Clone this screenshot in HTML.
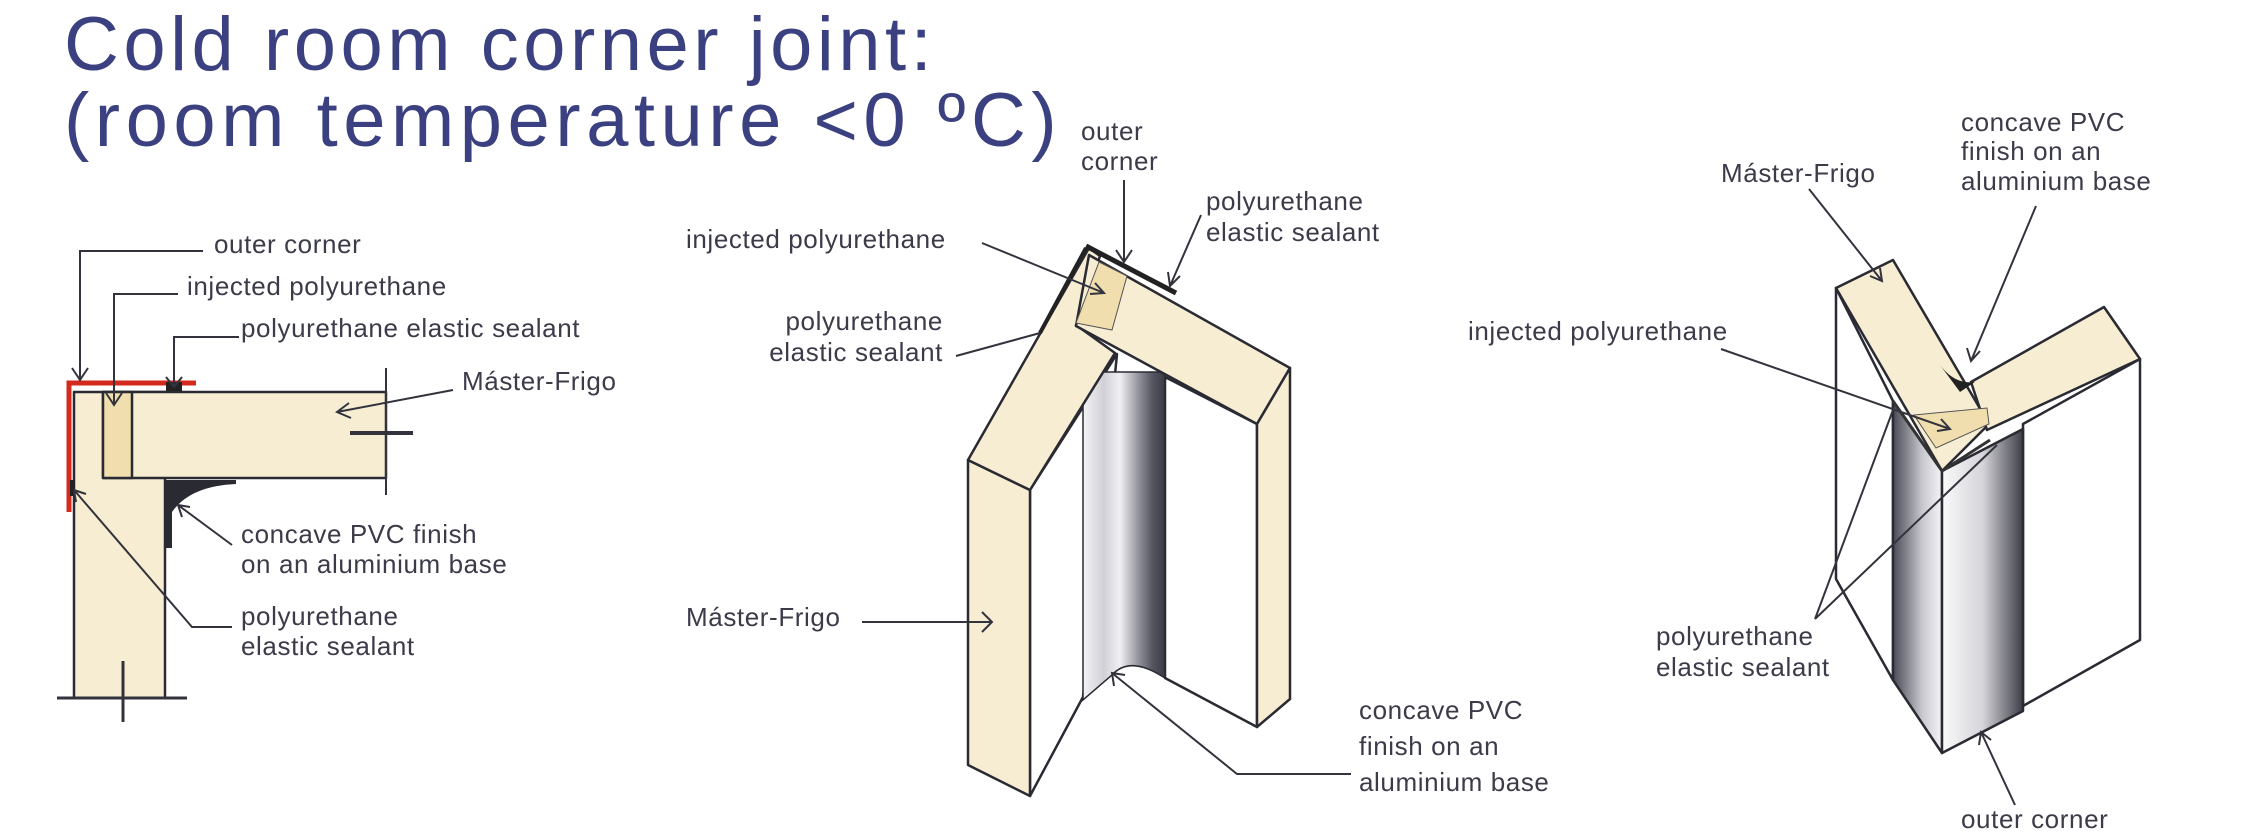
<!DOCTYPE html>
<html><head><meta charset="utf-8"><style>
html,body{margin:0;padding:0;background:#fff;}
svg{display:block;}
.t{font-family:"Liberation Sans",sans-serif;font-size:26px;fill:#3b3b4a;letter-spacing:0.6px;}
.ti{font-family:"Liberation Sans",sans-serif;font-size:76px;fill:#3a4080;letter-spacing:4.5px;}
.ln{stroke:#33333d;stroke-width:2;fill:none;}
.ol{stroke:#2a2a33;stroke-width:2.5;stroke-linejoin:round;}
</style></head><body>
<svg width="2267" height="837" viewBox="0 0 2267 837" xmlns="http://www.w3.org/2000/svg">
<defs>
<linearGradient id="cyl" x1="0" x2="1" y1="0" y2="0">
<stop offset="0" stop-color="#f4f4f6"/><stop offset="0.25" stop-color="#d0d0d6"/><stop offset="0.45" stop-color="#f0f0f2"/><stop offset="0.7" stop-color="#8a8a94"/><stop offset="0.85" stop-color="#55555f"/><stop offset="1" stop-color="#3a3a44"/>
</linearGradient>
<linearGradient id="m1" x1="0" x2="1" y1="0" y2="0">
<stop offset="0" stop-color="#4a4a55"/><stop offset="0.6" stop-color="#c8c8cf"/><stop offset="1" stop-color="#f5f5f7"/>
</linearGradient>
<linearGradient id="m2" x1="0" x2="1" y1="0" y2="0">
<stop offset="0" stop-color="#fafafa"/><stop offset="0.5" stop-color="#d5d5da"/><stop offset="1" stop-color="#3e3e48"/>
</linearGradient>
</defs>

<!-- Title -->
<text class="ti" x="64" y="70">Cold room corner joint:</text>
<text class="ti" x="64" y="146" style="letter-spacing:5.5px">(room temperature &lt;0 ºC)</text>

<!-- ===== Left diagram ===== -->
<rect x="74" y="392" width="91" height="306" fill="#f6edd3" class="ol"/>
<rect x="103" y="392" width="283" height="86" fill="#f6edd3" class="ol"/>
<rect x="103" y="392" width="29" height="86" fill="#f0deaf" class="ol"/>
<path d="M69 512 L69 383 L196 383" stroke="#d42a1e" stroke-width="5" fill="none"/>
<rect x="166" y="382" width="16" height="9" fill="#222"/>
<rect x="70" y="480" width="5" height="16" fill="#222"/>
<path d="M166 480 L236 480 L236 484 Q190 486 172 512 L172 548 L166 548 Z" fill="#2a2a33"/>
<line x1="386" y1="368" x2="386" y2="495" class="ln"/>
<line x1="350" y1="433" x2="413" y2="433" stroke="#33333d" stroke-width="4"/>
<line x1="57" y1="698" x2="187" y2="698" stroke="#33333d" stroke-width="3"/>
<line x1="123" y1="661" x2="123" y2="722" stroke="#33333d" stroke-width="3"/>
<!-- leaders -->
<path class="ln" d="M203 251 L80 251 L80 380 M72 368 L80 380 L88 368"/>
<path class="ln" d="M178 294 L114 294 L114 405 M106 393 L114 405 L122 393"/>
<path class="ln" d="M239 337 L174 337 L174 387 M166 377 L174 387 L182 377"/>
<path class="ln" d="M453 390 L337 412 M349 403 L337 412 L351 418"/>
<path class="ln" d="M232 545 L178 505 M182 517 L178 505 L190 507"/>
<path class="ln" d="M232 627 L192 627 L74 490 M76 502 L74 490 L86 494"/>
<text class="t" x="214" y="253">outer corner</text>
<text class="t" x="187" y="295">injected polyurethane</text>
<text class="t" x="241" y="337">polyurethane elastic sealant</text>
<text class="t" x="462" y="390">Máster-Frigo</text>
<text class="t" x="241" y="543">concave PVC finish</text>
<text class="t" x="241" y="573">on an aluminium base</text>
<text class="t" x="241" y="625">polyurethane</text>
<text class="t" x="241" y="655">elastic sealant</text>

<!-- ===== Middle diagram ===== -->
<polygon points="1030,490 1117,354 1083,697 1030,796" fill="#fff" class="ol"/>
<polygon points="1165,377 1257,424 1257,727 1165,678" fill="#fff" class="ol"/>
<path d="M1083 372 L1165 372 L1165 678 Q1130 655 1112 675 L1083 700 Z" fill="url(#cyl)" stroke="#2a2a33" stroke-width="1.5"/>
<polygon points="968,460 1030,490 1030,796 968,765" fill="#f6edd3" class="ol"/>
<polygon points="968,460 1089,248 1100,256 1076,325 1115,353 1030,490" fill="#f6edd3" class="ol"/>
<polygon points="1076,326 1089,255 1290,368 1257,424" fill="#f6edd3" class="ol"/>
<polygon points="1099,262 1127,276 1112,330 1076,323" fill="#f0deaf" stroke="#555" stroke-width="1"/>
<polygon points="1257,424 1290,368 1290,699 1257,727" fill="#f6edd3" class="ol"/>
<path d="M1086 246 L1176 293" stroke="#222" stroke-width="5"/>
<path d="M1086 248 L1040 333" stroke="#222" stroke-width="4"/>
<!-- leaders -->
<path class="ln" d="M1124 180 L1124 262 M1116 250 L1124 262 L1132 250"/>
<path class="ln" d="M1201 215 L1170 286 M1168 272 L1170 286 L1180 276"/>
<path class="ln" d="M982 243 L1104 293 M1090 294 L1104 293 L1095 283"/>
<path class="ln" d="M956 356 L1040 333"/>
<path class="ln" d="M862 622 L992 622 M982 612 L992 622 L982 632"/>
<path class="ln" d="M1351 774 L1237 774 L1112 673 M1114 686 L1112 673 L1125 675"/>
<text class="t" x="1081" y="140">outer</text>
<text class="t" x="1081" y="170">corner</text>
<text class="t" x="1206" y="210">polyurethane</text>
<text class="t" x="1206" y="241">elastic sealant</text>
<text class="t" x="686" y="248">injected polyurethane</text>
<text class="t" x="943" y="330" text-anchor="end">polyurethane</text>
<text class="t" x="943" y="361" text-anchor="end">elastic sealant</text>
<text class="t" x="686" y="626">Máster-Frigo</text>
<text class="t" x="1359" y="719">concave PVC</text>
<text class="t" x="1359" y="755">finish on an</text>
<text class="t" x="1359" y="791">aluminium base</text>

<!-- ===== Right diagram ===== -->
<polygon points="1836,288 1893,401 1893,680 1836,579" fill="#fff" class="ol"/>
<polygon points="2023,424 2140,359 2140,640 2023,706" fill="#fff" class="ol"/>
<polygon points="1893,401 1942,471 1942,753 1893,680" fill="url(#m1)" class="ol"/>
<polygon points="1942,471 2023,429 2023,711 1942,753" fill="url(#m2)" class="ol"/>
<polygon points="1836,288 1893,260 1989,424 1942,471" fill="#f6edd3" class="ol"/>
<polygon points="1971,382 2104,307 2140,359 1987,430" fill="#f6edd3" class="ol"/>
<polygon points="1914,415 1987,408 1989,424 1936,448" fill="#f0deaf" stroke="#555" stroke-width="1"/>
<path d="M1940 365 Q1955 385 1975 382 L1960 392 Z" fill="#222"/>
<path d="M1893 401 L1942 471 L1990 440" stroke="#333" stroke-width="3" fill="none"/>
<!-- leaders -->
<path class="ln" d="M1809 189 L1882 281 M1870 276 L1882 281 L1880 268"/>
<path class="ln" d="M2036 206 L1971 361 M1967 348 L1971 361 L1980 351"/>
<path class="ln" d="M1721 349 L1950 429 M1937 431 L1950 429 L1941 419"/>
<path class="ln" d="M1815 619 L1893 410 M1815 619 L1997 445"/>
<path class="ln" d="M2015 805 L1981 732 M1979 745 L1981 732 L1991 740"/>
<text class="t" x="1721" y="182">Máster-Frigo</text>
<text class="t" x="1961" y="131">concave PVC</text>
<text class="t" x="1961" y="160">finish on an</text>
<text class="t" x="1961" y="190">aluminium base</text>
<text class="t" x="1468" y="340">injected polyurethane</text>
<text class="t" x="1656" y="645">polyurethane</text>
<text class="t" x="1656" y="676">elastic sealant</text>
<text class="t" x="1961" y="828">outer corner</text>
</svg>
</body></html>
